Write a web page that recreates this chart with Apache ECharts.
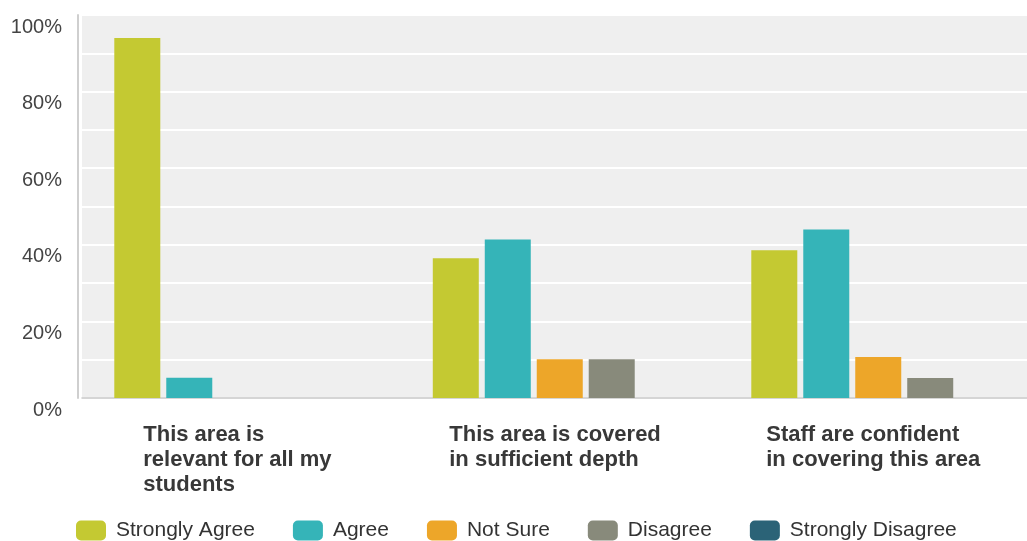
<!DOCTYPE html>
<html>
<head>
<meta charset="utf-8">
<script src="https://cdn.jsdelivr.net/npm/echarts@6/dist/echarts.min.js"></script>
<style>
html,body{margin:0;padding:0;background:#fff;}
#chart{width:1027px;height:541px;}
</style>
</head>
<body>
<div id="chart"></div>
<script>
const categories = [
  "This area is\nrelevant for all my\nstudents",
  "This area is covered\nin sufficient depth",
  "Staff are confident\nin covering this area"
];
const seriesNames = ["Strongly Agree", "Agree", "Not Sure", "Disagree", "Strongly Disagree"];
const stronglyAgree = [94.0, 36.5, 38.6];
const agree = [5.3, 41.4, 44.0];
const notSure = [0, 10.1, 10.7];
const disagree = [0, 10.1, 5.2];
const stronglyDisagree = [0, 0, 0];
const yTickLabels = ["0%", "20%", "40%", "60%", "80%", "100%"];
const colors = ["#c4c932", "#35b4b8", "#eda629", "#888a7b", "#2b6377"];

const labelWidths = [196, 221, 224];
const allValues = [stronglyAgree, agree, notSure, disagree, stronglyDisagree];

const chart = echarts.init(document.getElementById('chart'));
const rich = {};
labelWidths.forEach((w, i) => {
  rich['c' + i] = {
    width: w, align: 'left', fontFamily: '"Liberation Sans", Arial, sans-serif',
    fontWeight: 'bold', fontSize: 22, lineHeight: 25, color: '#383838'
  };
});

chart.setOption({
  animation: false,
  color: colors,
  grid: {
    left: 82, width: 955.5, top: 15, height: 383,
    outerBoundsMode: 'none', containLabel: false,
    show: true, backgroundColor: '#efefef', borderWidth: 0
  },
  legend: {
    top: 520, left: 76, padding: 0,
    itemWidth: 30, itemHeight: 20, itemGap: 38,
    icon: 'roundRect',
    data: seriesNames,
    textStyle: { fontFamily: '"Liberation Sans", Arial, sans-serif', fontSize: 21, color: '#333', padding: [0, 0, 0, 5] }
  },
  xAxis: {
    type: 'category',
    data: categories,
    axisTick: { show: false },
    axisLine: { lineStyle: { color: '#c8c8c8', width: 1.5 } },
    axisLabel: {
      interval: 0, margin: 24,
      formatter: function (v, idx) {
        return v.split('\n').map(l => '{c' + idx + '|' + l + '}').join('\n');
      },
      rich: rich
    }
  },
  yAxis: {
    type: 'value', min: 0, max: 100, interval: 10,
    offset: 4,
    axisLine: { show: true, lineStyle: { color: '#cfcfcf', width: 2 } },
    axisTick: { show: false },
    splitLine: { lineStyle: { color: '#ffffff', width: 2 } },
    axisLabel: {
      margin: 16, verticalAlign: 'top', lineHeight: 20, padding: [2, 0, 0, 0],
      fontFamily: '"Liberation Sans", Arial, sans-serif', fontSize: 20, color: '#444',
      formatter: function (v) {
        return v % 20 === 0 ? yTickLabels[v / 20] : '';
      }
    }
  },
  series: seriesNames.map((n, i) => ({
    name: n, type: 'bar', data: allValues[i],
    barWidth: 46, barGap: '13%'
  }))
});
</script>
</body>
</html>
